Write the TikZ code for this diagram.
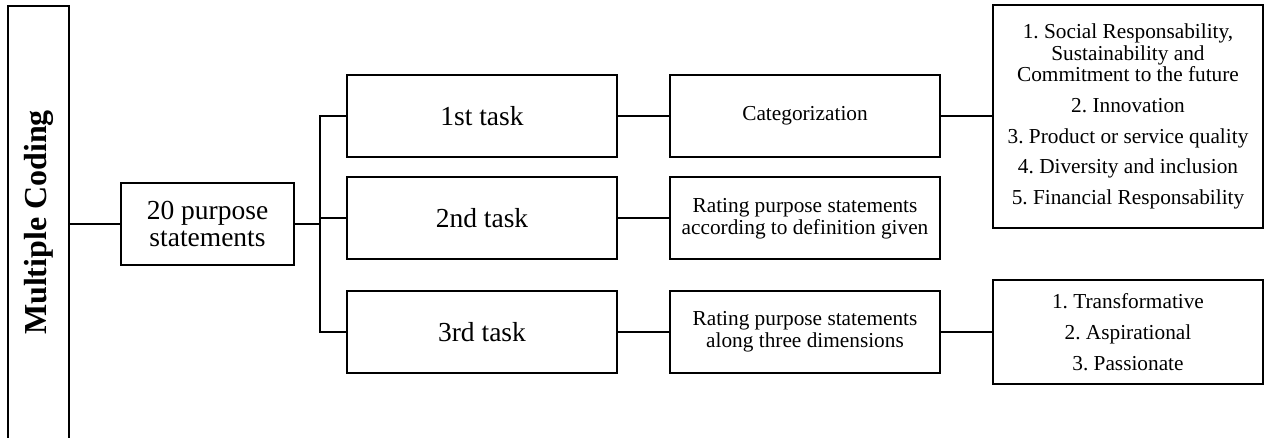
\documentclass[tikz,border=0pt]{standalone}
\usepackage{fontspec}
\setmainfont{Liberation Serif}
\frenchspacing
\begin{document}
\begin{tikzpicture}[x=1pt, y=-1pt, line width=2pt,
  box/.style={draw, line width=2pt, minimum width=270, minimum height=82,
              inner sep=0pt, align=center},
  bigtext/.style={font=\fontsize{27.5}{27}\selectfont},
  smalltext/.style={font=\fontsize{21.3}{21.7}\selectfont},
  link/.style={draw, line width=2pt}]
  \useasboundingbox (0,0) rectangle (1270,438);

  % tall side panel, open at the bottom
  \node[inner sep=0pt, minimum width=59, minimum height=431] (mc) at (38.5,222.5)
    {\rotatebox{90}{\fontsize{32}{32}\selectfont\bfseries Multiple Coding}};
  \draw (mc.south west) -- (mc.north west) -- (mc.north east) -- (mc.south east);

  % source
  \node[box, bigtext, minimum width=173] (p20) at (207.5,224) {20 purpose\\statements};

  % tasks
  \node[box, bigtext] (t1) at (482,116)   {1st task};
  \node[box, bigtext] (t2) at (482,218.4) {2nd task};
  \node[box, bigtext] (t3) at (482,331.7) {3rd task};

  % methods
  \node[box, smalltext] (c1) at (805,116)   {Categorization};
  \node[box, smalltext] (c2) at (805,218.4) {Rating purpose statements\\according to definition given};
  \node[box, smalltext] (c3) at (805,331.7) {Rating purpose statements\\along three dimensions};

  % outcome lists
  \node[box, smalltext, minimum height=223] (l1) at (1128,116.5)
    {1. Social Responsability,\\Sustainability and\\Commitment to the future\\[9pt]
     2. Innovation\\[9pt]3. Product or service quality\\[9pt]
     4. Diversity and inclusion\\[9pt]5. Financial Responsability};
  \node[box, smalltext, minimum height=104] (l2) at (1128,332)
    {1. Transformative\\[9pt]2. Aspirational\\[9pt]3. Passionate};

  % connectors
  \coordinate (br) at (320,224);
  \draw[link] (p20.west) -- (p20.west -| mc.east);
  \draw[link] (p20.east) -- (br);
  \draw[link] (t1.west) -| (br) |- (t3.west);
  \draw[link] (t2.west) -- (t2.west -| br);
  \draw[link] (t1.east) -- (c1.west);
  \draw[link] (t2.east) -- (c2.west);
  \draw[link] (t3.east) -- (c3.west);
  \draw[link] (c1.east) -- (c1.east -| l1.west);
  \draw[link] (c3.east) -- (c3.east -| l2.west);
\end{tikzpicture}
\end{document}
